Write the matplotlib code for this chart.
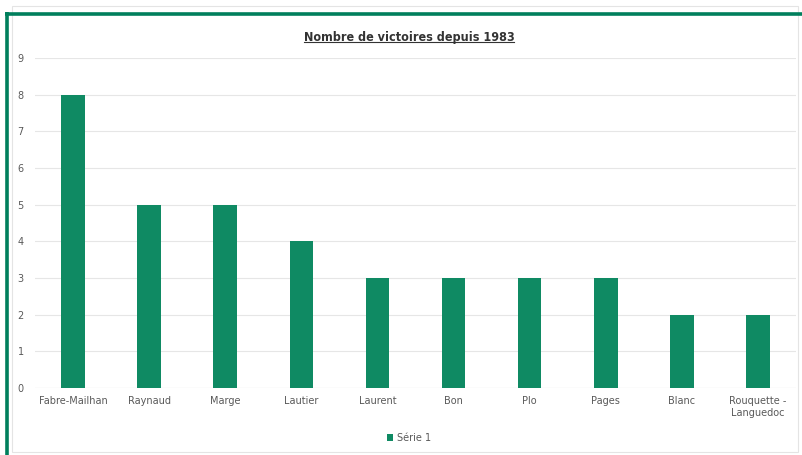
import matplotlib.pyplot as plt
from matplotlib.patches import Rectangle
from matplotlib.lines import Line2D

communes = ['Fabre-Mailhan', 'Raynaud', 'Marge', 'Lautier', 'Laurent',
            'Bon', 'Plo', 'Pages', 'Blanc', 'Rouquette -\nLanguedoc']
victoires = [8, 5, 5, 4, 3, 3, 3, 3, 2, 2]

vert = '#0F8A63'
gris = '#595959'

fig = plt.figure(figsize=(8.02, 4.55), dpi=100)
fig.patch.set_facecolor('white')

# cadre vert (haut et gauche) + cadre gris du graphique
fig.add_artist(Line2D([5 / 802, 1], [1 - 13.5 / 455] * 2, color='#007F5C', lw=2.6,
                      solid_capstyle='butt'))
fig.add_artist(Line2D([6.5 / 802] * 2, [0, 1 - 12 / 455], color='#007F5C', lw=2.6,
                      solid_capstyle='butt'))
fig.add_artist(Rectangle((12 / 802, 3 / 455), 786 / 802, 446 / 455, fill=False,
                         edgecolor='#E4E4E4', lw=0.8))

ax = fig.add_axes([35 / 802, 1 - 388 / 455, 761 / 802, 330 / 455])
x = range(len(communes))
ax.bar(x, victoires, width=0.31, color=vert, label='Série 1', zorder=3)
ax.set_ylim(0, 9)
ax.set_xlim(-0.5, len(communes) - 0.5)
ax.set_yticks(range(10))
ax.set_xticks(list(x))
ax.set_xticklabels(communes, fontsize=7, color=gris)
ax.tick_params(axis='y', labelsize=7, labelcolor=gris, length=0, pad=8)
ax.tick_params(axis='x', length=0, pad=6)
ax.grid(axis='y', color='#E6E6E6', lw=0.8, zorder=0)
for s in ax.spines.values():
    s.set_visible(False)
ax.axhline(0, color='#D9D9D9', lw=0.8, zorder=2)

t = fig.text(409 / 802, 1 - 37 / 455, 'Nombre de victoires depuis 1983',
             ha='center', va='center', fontsize=9, fontweight='bold',
             fontstretch='condensed', family='DejaVu Sans', color='#333333')
fig.canvas.draw()
bb = t.get_window_extent().transformed(fig.transFigure.inverted())
fig.add_artist(Line2D([bb.x0, bb.x1], [bb.y0 + 0.004] * 2, color='#333333', lw=0.8))

fig.legend(loc='center', bbox_to_anchor=(409 / 802, 1 - 438 / 455), frameon=False,
           fontsize=7, labelcolor=gris, handlelength=0.7, handleheight=0.7,
           handletextpad=0.4)

fig.savefig('out.png', dpi=100)
